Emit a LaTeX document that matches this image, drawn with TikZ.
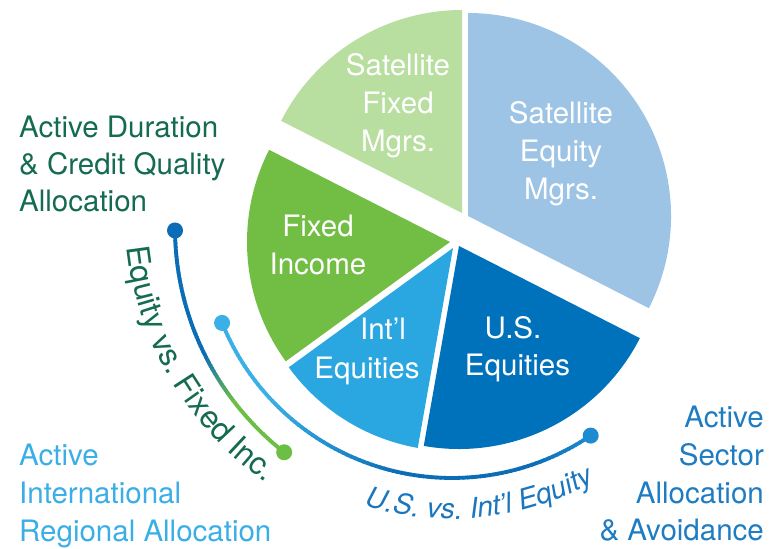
\documentclass[tikz,border=0pt]{standalone}
\usepackage{fontspec}
\setmainfont{TeX Gyre Heros}
\usetikzlibrary{decorations.text,calc}
\definecolor{sfgreen}{HTML}{B8DEA0}
\definecolor{seblue}{HTML}{9DC4E4}
\definecolor{figreen}{HTML}{72BE45}
\definecolor{ieblue}{HTML}{2AA7E0}
\definecolor{usblue}{HTML}{0071BB}
\definecolor{dkgreen}{HTML}{146B52}
\definecolor{intltext}{HTML}{3AAEE5}
\definecolor{sectortext}{HTML}{1E7CC2}
\definecolor{ustext}{HTML}{1B76BD}
\definecolor{arcblue}{HTML}{0A6DB6}
\definecolor{arcgreen}{HTML}{6DBE45}
\definecolor{arclight}{HTML}{3BB0E6}
\definecolor{arcmid}{HTML}{1E8AD0}
\begin{document}
\begin{tikzpicture}[x=1pt,y=1pt,
  lbl/.style={font=\fontsize{29.5}{36}\selectfont, inner sep=0pt},
  pielbl/.style={lbl, text=white, anchor=base},
  leftlbl/.style={lbl, anchor=base west},
  rightlbl/.style={lbl, anchor=base east},
  dot/.style={radius=8}]
\useasboundingbox (0,0) rectangle (769,549);
% wedges
\fill[seblue]  (468,333) -- ++(-27:203) arc[start angle=-27,end angle=90,radius=203] -- cycle;
\fill[sfgreen] (462,336) -- ++(90:203) arc[start angle=90,end angle=153,radius=203] -- cycle;
\fill[figreen] (450,307) -- ++(153:203) arc[start angle=153,end angle=216,radius=203] -- cycle;
\fill[ieblue]  (453,301) -- ++(216:203) arc[start angle=216,end angle=260,radius=203] -- cycle;
\fill[usblue]  (459,303) -- ++(260:203) arc[start angle=260,end angle=333,radius=203] -- cycle;
% pie labels
\node[pielbl] (sf1) at (398,473) {Satellite};
\node[pielbl] (sf2) at (398,435.7) {Fixed};
\node[pielbl] (sf3) at (398,397.3) {Mgrs.};
\node[pielbl] (se1) at (561,425) {Satellite};
\node[pielbl] (se2) at (561,387.3) {Equity};
\node[pielbl] (se3) at (561,349) {Mgrs.};
\node[pielbl] (fi1) at (318,312.3) {Fixed};
\node[pielbl] (fi2) at (318,274) {Income};
\node[pielbl] (ie1) at (383,209) {Int’l};
\node[pielbl] (ie2) at (367,170.7) {Equities};
\node[pielbl] (us1) at (513,210.7) {U.S.};
\node[pielbl] (us2) at (517.5,173) {Equities};
% side labels
\node[leftlbl, text=dkgreen] (ad1) at (19,411.7) {Active Duration};
\node[leftlbl, text=dkgreen] (ad2) at (19,374) {\& Credit Quality};
\node[leftlbl, text=dkgreen] (ad3) at (19,337.3) {Allocation};
\node[leftlbl, text=intltext] (ai1) at (19,83) {Active};
\node[leftlbl, text=intltext] (ai2) at (19,45) {International};
\node[leftlbl, text=intltext] (ai3) at (19,7.3) {Regional Allocation};
\node[rightlbl, text=sectortext] (as1) at (764,121.7) {Active};
\node[rightlbl, text=sectortext] (as2) at (764,83) {Sector};
\node[rightlbl, text=sectortext] (as3) at (764,45.7) {Allocation};
\node[rightlbl, text=sectortext] (as4) at (764,8.3) {\& Avoidance};
% arc centres
\coordinate (c1) at (460,321);
\coordinate (c2) at (452,319);
\coordinate (c3) at (454,336);
% arc 1: equity vs fixed
\foreach \i in {0,...,79}{
  \pgfmathsetmacro\aa{180.5+\i*51.4/80}
  \pgfmathsetmacro\bb{\aa+51.4/80+0.3}
  \pgfmathtruncatemacro\p{max(0,min(100,(\i/79-0.5)/0.22*100))}
  \draw[line width=3.8pt, color=arcgreen!\p!arcblue] ($(c1)+(\aa:285)$) arc[start angle=\aa,end angle=\bb,radius=285];
}
\coordinate (a1s) at ($(c1)+(180.5:285)$);
\coordinate (a1e) at ($(c1)+(231.9:285)$);
\fill[arcblue] (a1s) circle[dot];
\fill[arcgreen] (a1e) circle[dot];
% arc 2: us vs intl
\foreach \i in {0,...,99}{
  \pgfmathsetmacro\aa{202+\i*102/100}
  \pgfmathsetmacro\bb{\aa+102/100+0.3}
  \pgfmathtruncatemacro\p{max(0,min(100,(\i/99-0.2)/0.35*100))}
  \pgfmathtruncatemacro\r{100-max(0,min(100,(\i/99-0.85)/0.15*100))}
  \draw[line width=3.8pt, color=arcblue!\p!arclight!\r!arcmid] ($(c2)+(\aa:248)$) arc[start angle=\aa,end angle=\bb,radius=248];
}
\coordinate (a2s) at ($(c2)+(202:248)$);
\coordinate (a2e) at ($(c2)+(304:248)$);
\fill[arclight] (a2s) circle[dot];
\fill[arcmid] (a2e) circle[dot];
% curved texts
\path[decorate, decoration={text along path, text align=center,
  text={|\fontsize{31.5}{36}\selectfont\color{dkgreen}|Equity vs. Fixed Inc.}}]
  ($(c3)+(178:328.7)$) arc[start angle=178,end angle=243,radius=328.7];
\path[decorate, decoration={text along path, text align=center,
  text={|\fontsize{28.3}{32}\selectfont\itshape\color{ustext}|U.S. vs. Int’l Equity}}]
  ($(c2)+(244:289)$) arc[start angle=244,end angle=308,radius=289];
\end{tikzpicture}
\end{document}
